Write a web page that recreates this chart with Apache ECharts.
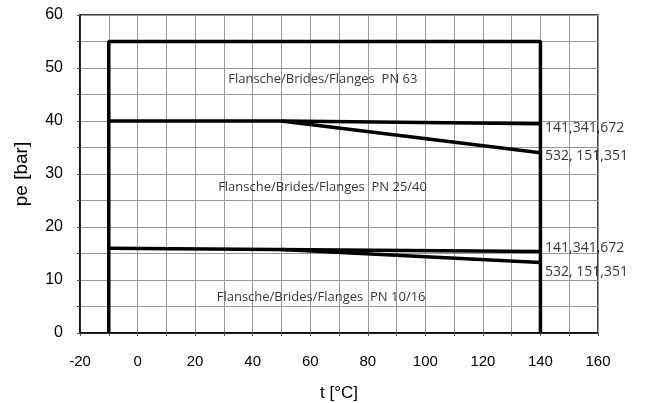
<!DOCTYPE html>
<html>
<head>
<meta charset="utf-8">
<script src="https://cdn.jsdelivr.net/npm/echarts@6/dist/echarts.min.js"></script>
<style>html,body{margin:0;padding:0;background:#fff}#c{width:646px;height:403px}</style>
</head>
<body>
<div id="c"></div>
<script>
// Data
var frameLine = [[-10, 0], [-10, 55], [140, 55], [140, 0]];
var pn40Line141 = [[-10, 40], [50, 40], [140, 39.5]];
var pn40Line532 = [[50, 40], [140, 34]];
var pn16Line141 = [[-10, 16], [140, 15.4]];
var pn16Line532 = [[50, 15.75], [140, 13.3]];
var zoneLabels = [[31.5, 47.8, 'Flansche/Brides/Flanges  PN 63'], [28, 27.4, 'Flansche/Brides/Flanges  PN 25/40'], [27.5, 6.8, 'Flansche/Brides/Flanges  PN 10/16']];
var endLabels = [[141.6, 38.6, '141,341,672'], [141.6, 33.4, '532, 151,351'], [141.6, 16.1, '141,341,672'], [141.6, 11.6, '532, 151,351']];
var xTicks = [-20, 0, 20, 40, 60, 80, 100, 120, 140, 160];
var yTicks = [0, 10, 20, 30, 40, 50, 60];

var chart = echarts.init(document.getElementById('c'), null, {renderer: 'canvas'});
function thick(data) {
  return {type: 'line', data: data, symbol: 'none', silent: true,
    lineStyle: {color: '#000', width: 3.5}, z: 5};
}
function textSeries(data, size) {
  return {type: 'scatter', symbolSize: 0, silent: true, z: 6,
    data: data.map(function (d) { return {value: [d[0], d[1]], name: d[2]}; }),
    label: {show: true, position: 'right', distance: 0, formatter: '{b}',
      fontFamily: 'Open Sans', fontSize: size, color: '#000'}};
}
chart.setOption({
  animation: false,
  grid: {left: 80, right: 48, top: 15, bottom: 70, show: true, borderColor: '#000', borderWidth: 1.5,
    outerBoundsMode: 'none', containLabel: false},
  xAxis: {type: 'value', min: -20, max: 160, interval: 10,
    name: 't [°C]', nameLocation: 'middle', nameGap: 52,
    nameTextStyle: {fontFamily: 'Liberation Sans', fontSize: 17, color: '#000'},
    axisLine: {onZero: false, lineStyle: {color: '#000', width: 1.5}},
    axisTick: {show: true, length: 3, lineStyle: {color: '#555'}},
    axisLabel: {margin: 21, fontFamily: 'Liberation Sans', fontSize: 15, color: '#000',
      formatter: function (v) { return xTicks.indexOf(v) >= 0 ? String(v) : ''; }},
    splitLine: {show: true, lineStyle: {color: '#999', width: 1}}},
  yAxis: {type: 'value', min: 0, max: 60, interval: 5,
    name: 'pe [bar]', nameLocation: 'middle', nameGap: 49, nameRotate: 90,
    nameTextStyle: {fontFamily: 'Liberation Sans', fontSize: 19, color: '#000'},
    axisLine: {show: true, onZero: false, lineStyle: {color: '#000', width: 1.5}},
    axisTick: {show: true, length: 3, lineStyle: {color: '#555'}},
    axisLabel: {margin: 17, fontFamily: 'Liberation Sans', fontSize: 16, color: '#000',
      formatter: function (v) { return yTicks.indexOf(v) >= 0 ? String(v) : ''; }},
    splitLine: {show: true, lineStyle: {color: '#999', width: 1}}},
  series: [
    thick(frameLine), thick(pn40Line141), thick(pn40Line532),
    thick(pn16Line141), thick(pn16Line532),
    textSeries(zoneLabels, 13), textSeries(endLabels, 14)
  ]
});
</script>
</body>
</html>
